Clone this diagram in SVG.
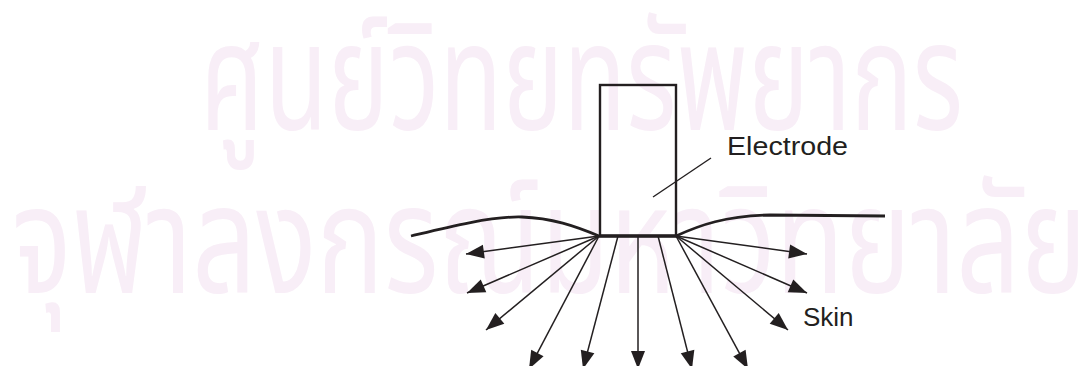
<svg xmlns="http://www.w3.org/2000/svg" width="1083" height="366" viewBox="0 0 1083 366">
  <style>
    .wm { fill: #f8eef7; font-family: "Noto Sans Thai", "Noto Sans", "DejaVu Sans", sans-serif; font-size: 150px; }
    .lbl { fill: #231f20; font-family: "Liberation Sans", Arial, sans-serif; font-size: 26px; }
    .arrow { stroke: #231f20; stroke-width: 1.5; fill: none; marker-end: url(#ah); }
    .skin { stroke: #231f20; stroke-width: 2.8; fill: none; }
  </style>
  <defs>
    <marker id="ah" markerUnits="userSpaceOnUse" markerWidth="19" markerHeight="15" refX="18" refY="7" orient="auto" overflow="visible">
      <path d="M0,0 L18,7 L0,14 Z" fill="#231f20"/>
    </marker>
  </defs>
  <rect width="1083" height="366" fill="#ffffff"/>
  <g id="watermark">
    <text class="wm" x="200" y="130" textLength="763" lengthAdjust="spacingAndGlyphs">ศูนย์วิทยทรัพยากร</text>
    <text class="wm" x="12" y="293" textLength="1075" lengthAdjust="spacingAndGlyphs">จุฬาลงกรณ์มหาวิทยาลัย</text>
  </g>
  <g id="skin">
    <path class="skin" d="M411,236 C440,229 490,216 522,217 C552,218 575,226 599,236"/>
    <path class="skin" d="M676,236 C700,225 725,216 770,215 L885,216"/>
    <text class="lbl" x="803" y="326">Skin</text>
  </g>
  <g id="electrode">
    <rect x="600" y="85" width="76" height="151" fill="none" stroke="#231f20" stroke-width="2.4"/>
    <line x1="599" y1="236" x2="677" y2="236" stroke="#231f20" stroke-width="3.6"/>
    <line x1="653" y1="197" x2="711" y2="158" stroke="#231f20" stroke-width="1.4"/>
    <text class="lbl" x="727" y="155" textLength="121" lengthAdjust="spacingAndGlyphs">Electrode</text>
  </g>
  <g id="connectors">
    <line class="arrow" x1="599" y1="236" x2="466" y2="254"/>
    <line class="arrow" x1="599" y1="236" x2="467" y2="293"/>
    <line class="arrow" x1="599" y1="236" x2="486" y2="330"/>
    <line class="arrow" x1="599" y1="236" x2="529" y2="369"/>
    <line class="arrow" x1="618" y1="236" x2="583" y2="369"/>
    <line class="arrow" x1="638" y1="236" x2="638" y2="369"/>
    <line class="arrow" x1="658" y1="236" x2="692" y2="369"/>
    <line class="arrow" x1="676" y1="236" x2="748" y2="369"/>
    <line class="arrow" x1="676" y1="236" x2="788" y2="330"/>
    <line class="arrow" x1="676" y1="236" x2="807" y2="293"/>
    <line class="arrow" x1="676" y1="236" x2="807" y2="254"/>
  </g>
</svg>
